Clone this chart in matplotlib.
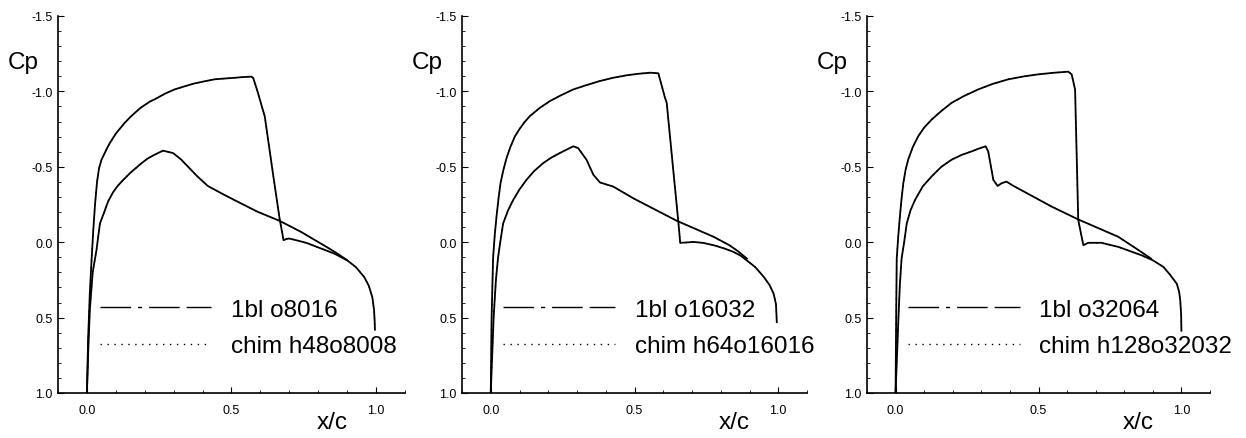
import matplotlib
matplotlib.use('Agg')
import matplotlib.pyplot as plt
from matplotlib.lines import Line2D
from matplotlib.ticker import MultipleLocator

plt.rcParams['font.family'] = ['Liberation Sans', 'DejaVu Sans']

# panel 1: 1bl o8016 / chim h48o8008
xUpper1 = [0, 0.004, 0.010, 0.016, 0.022, 0.028, 0.035, 0.042, 0.05, 0.06, 0.07, 0.08, 0.09, 0.10,
           0.115, 0.13, 0.15, 0.166, 0.185, 0.20, 0.22, 0.234, 0.27, 0.303, 0.34, 0.372, 0.41, 0.441,
           0.48, 0.51, 0.54, 0.568, 0.575, 0.59, 0.608, 0.615, 0.64, 0.666, 0.68, 0.69, 0.70, 0.72,
           0.76, 0.81, 0.855, 0.90, 0.93, 0.959, 0.975, 0.987, 0.993, 0.995, 0.996]
cpUpper1 = [1.0, 0.65, 0.34, 0.12, -0.08, -0.25, -0.40, -0.49, -0.545, -0.585, -0.625, -0.66, -0.69,
            -0.72, -0.755, -0.79, -0.83, -0.858, -0.89, -0.91, -0.935, -0.947, -0.985, -1.013, -1.035,
            -1.053, -1.068, -1.08, -1.086, -1.09, -1.095, -1.098, -1.09, -1.0, -0.88, -0.835, -0.5,
            -0.16, -0.013, -0.022, -0.024, -0.015, 0.005, 0.042, 0.075, 0.12, 0.165, 0.231, 0.29,
            0.365, 0.45, 0.52, 0.58]
xLower1 = [0, 0.005, 0.010, 0.02, 0.033, 0.045, 0.06, 0.073, 0.09, 0.105, 0.12, 0.15, 0.189, 0.21,
           0.234, 0.263, 0.298, 0.325, 0.349, 0.38, 0.418, 0.476, 0.53, 0.59, 0.666, 0.74, 0.832,
           0.87, 0.90]
cpLower1 = [1.0, 0.7, 0.45, 0.2, 0.053, -0.124, -0.2, -0.269, -0.33, -0.37, -0.402, -0.46, -0.524,
            -0.555, -0.58, -0.607, -0.591, -0.55, -0.502, -0.44, -0.373, -0.313, -0.26, -0.202,
            -0.142, -0.069, 0.035, 0.08, 0.12]

# panel 2: 1bl o16032 / chim h64o16016
xUpper2 = [0, 0.003, 0.008, 0.014, 0.02, 0.027, 0.034, 0.044, 0.055, 0.068, 0.084, 0.10, 0.117,
           0.136, 0.17, 0.206, 0.245, 0.287, 0.33, 0.38, 0.425, 0.473, 0.515, 0.554, 0.583, 0.606,
           0.612, 0.653, 0.659, 0.68, 0.705, 0.74, 0.775, 0.81, 0.844, 0.87, 0.89, 0.92, 0.95,
           0.97, 0.984, 0.992, 0.995]
cpUpper2 = [1.0, 0.5, 0.109, -0.05, -0.169, -0.29, -0.391, -0.48, -0.558, -0.63, -0.702, -0.75,
            -0.795, -0.836, -0.89, -0.936, -0.975, -1.013, -1.04, -1.069, -1.09, -1.107, -1.117,
            -1.124, -1.12, -0.958, -0.924, -0.124, 0.004, 0.002, -0.002, 0.005, 0.02, 0.04, 0.064,
            0.09, 0.12, 0.165, 0.231, 0.285, 0.342, 0.41, 0.53]
xLower2 = [0, 0.01, 0.018, 0.025, 0.033, 0.043, 0.06, 0.078, 0.10, 0.124, 0.15, 0.182, 0.21, 0.24,
           0.265, 0.287, 0.304, 0.333, 0.357, 0.38, 0.426, 0.496, 0.647, 0.775, 0.83, 0.86, 0.891]
cpLower2 = [1.0, 0.5, 0.25, 0.109, 0.0, -0.124, -0.21, -0.28, -0.35, -0.413, -0.47, -0.524, -0.56,
            -0.591, -0.615, -0.636, -0.624, -0.547, -0.447, -0.396, -0.369, -0.291, -0.142, -0.036,
            0.02, 0.06, 0.109]

# panel 3: 1bl o32064 / chim h128o32032
xUpper3 = [0, 0.002, 0.004, 0.009, 0.015, 0.021, 0.027, 0.035, 0.044, 0.06, 0.079, 0.10, 0.126,
           0.16, 0.196, 0.24, 0.289, 0.34, 0.394, 0.45, 0.499, 0.55, 0.604, 0.616, 0.628, 0.639,
           0.657, 0.674, 0.72, 0.779, 0.861, 0.90, 0.937, 0.96, 0.984, 0.992, 0.996, 0.999, 1.0]
cpUpper3 = [1.0, 0.5, 0.109, -0.03, -0.169, -0.29, -0.391, -0.48, -0.547, -0.63, -0.702, -0.76,
            -0.813, -0.87, -0.924, -0.97, -1.013, -1.05, -1.08, -1.1, -1.113, -1.123, -1.131,
            -1.113, -1.013, -0.147, 0.02, 0.004, 0.004, 0.031, 0.087, 0.12, 0.164, 0.215, 0.276,
            0.33, 0.387, 0.48, 0.587]
xLower3 = [0, 0.01, 0.015, 0.021, 0.03, 0.039, 0.052, 0.068, 0.095, 0.126, 0.16, 0.196, 0.23, 0.266,
           0.29, 0.315, 0.324, 0.342, 0.357, 0.371, 0.388, 0.406, 0.546, 0.639, 0.779, 0.84, 0.894]
cpLower3 = [1.0, 0.5, 0.28, 0.109, 0.0, -0.124, -0.21, -0.28, -0.37, -0.436, -0.5, -0.547, -0.578,
            -0.602, -0.62, -0.636, -0.602, -0.413, -0.373, -0.391, -0.402, -0.38, -0.236, -0.151,
            -0.036, 0.04, 0.109]

labels1bl = ['1bl o8016', '1bl o16032', '1bl o32064']
labelsChim = ['chim h48o8008', 'chim h64o16016', 'chim h128o32032']

yTicks = [-1.5, -1.0, -0.5, 0.0, 0.5, 1.0]
xTicks = [0.0, 0.5, 1.0]

panels = [
    (xUpper1, cpUpper1, xLower1, cpLower1),
    (xUpper2, cpUpper2, xLower2, cpLower2),
    (xUpper3, cpUpper3, xLower3, cpLower3),
]
axLefts = [58, 462, 867]
axWidths = [347, 345, 343]

fig = plt.figure(figsize=(12.46, 4.39), dpi=100)

dash1bl = (0, (22, 5, 3, 5, 22, 5))
dotChim = (0, (1, 4))

for i, (xu, cu, xl, cl) in enumerate(panels):
    ax = fig.add_axes([axLefts[i] / 1246, 45 / 439, axWidths[i] / 1246, 377 / 439])

    # the two computations lie on top of each other
    ax.plot(xu, cu, color='black', lw=1.3)
    ax.plot(xl, cl, color='black', lw=1.3)
    ax.plot(xu, cu, color='black', lw=0.9, linestyle=dotChim)
    ax.plot(xl, cl, color='black', lw=0.9, linestyle=dotChim)

    ax.set_xlim(-0.1, 1.1)
    ax.set_ylim(1.0, -1.5)

    for side in ['top', 'right']:
        ax.spines[side].set_visible(False)
    for side in ['left', 'bottom']:
        ax.spines[side].set_linewidth(1.2)

    ax.set_yticks(yTicks)
    ax.set_yticklabels(['%.1f' % v for v in yTicks])
    ax.set_xticks(xTicks)
    ax.set_xticklabels(['%.1f' % v for v in xTicks])
    ax.xaxis.set_minor_locator(MultipleLocator(0.1))
    ax.yaxis.set_minor_locator(MultipleLocator(0.1))
    ax.tick_params(which='major', direction='in', length=4, width=0.8, labelsize=9)
    ax.tick_params(axis='y', which='major', pad=4)
    ax.tick_params(axis='x', which='major', pad=8)
    ax.tick_params(which='minor', direction='in', length=2, width=0.6)

    ax.text(-0.1, 0.878, 'Cp', transform=ax.transAxes, fontsize=17.5, ha='center', va='center')
    ax.text(0.79, -0.077, 'x/c', transform=ax.transAxes, fontsize=17.5, ha='center', va='center')

    handles = [
        Line2D([], [], color='black', lw=1.0, linestyle=dash1bl),
        Line2D([], [], color='black', lw=1.0, linestyle=dotChim),
    ]
    ax.legend(handles, [labels1bl[i], labelsChim[i]], loc='center left',
              bbox_to_anchor=(0.12, 0.1725), frameon=False, fontsize=17.5,
              handlelength=4.6, handletextpad=0.8, labelspacing=0.6,
              borderpad=0, borderaxespad=0)

fig.savefig('out.png', dpi=100)
